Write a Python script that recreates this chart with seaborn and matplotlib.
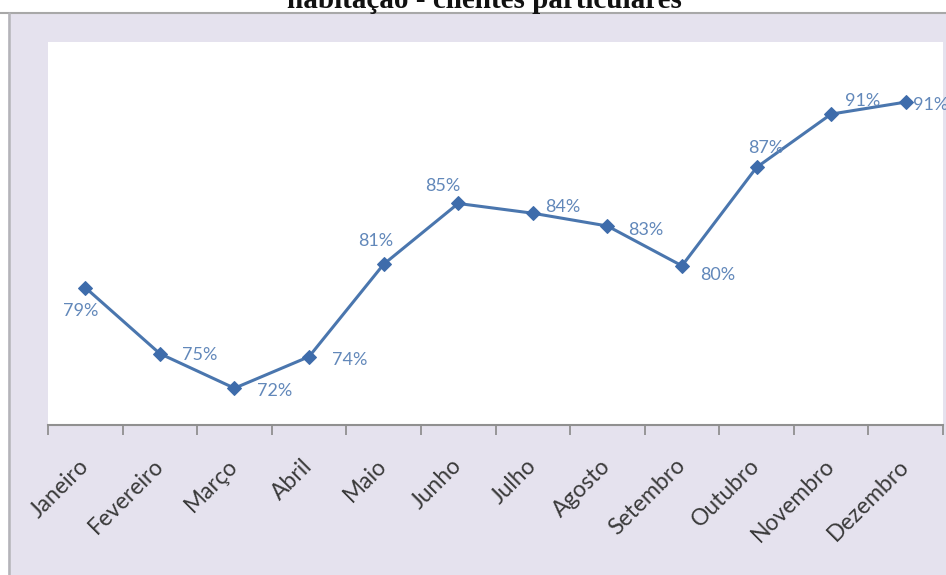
import numpy as np
import pandas as pd
import matplotlib
matplotlib.use("Agg")
import matplotlib.pyplot as plt
from matplotlib.patches import Rectangle
from matplotlib.lines import Line2D
import seaborn as sns

# Monthly rate (%) - housing, private customers
months = ["Janeiro", "Fevereiro", "Março", "Abril", "Maio", "Junho",
          "Julho", "Agosto", "Setembro", "Outubro", "Novembro", "Dezembro"]
rates = [79.0, 74.6, 72.3, 74.4, 80.55, 84.6, 83.95, 83.1, 80.45, 87.0, 90.55, 91.35]

title = "habitação - clientes particulares"

# data-label placement, in pixels relative to each marker (dx, dy, ha)
label_offsets = [(-5, -23, "center"), (22, -1, "left"), (23, -3, "left"),
                 (23, -3, "left"), (-8, 23, "center"), (-15, 17, "center"),
                 (12, 6, "left"), (21, -4, "left"), (18, -9, "left"),
                 (9, 19, "center"), (31, 13, "center"), (7, -3, "left")]

sns.set_theme(style="white")
plt.rcParams["font.family"] = ["Lato", "DejaVu Sans"]

W, H = 946, 575
fig = plt.figure(figsize=(W / 100, H / 100), dpi=100, facecolor="white")

# lavender chart frame below the title strip
bg = "#e5e2ee"
fig.patches.append(Rectangle((8 / W, 0), 1 - 8 / W, 1 - 13 / H,
                             transform=fig.transFigure, facecolor=bg,
                             edgecolor="none", zorder=-10))
fig.lines.append(Line2D([0, 1], [1 - 12.5 / H, 1 - 12.5 / H],
                        transform=fig.transFigure, color="#a8a8a8", lw=1.5, zorder=-5))
fig.lines.append(Line2D([8.5 / W, 8.5 / W], [0, 1 - 12.5 / H],
                        transform=fig.transFigure, color="#b4b4b8", lw=1.8, zorder=-5))

fig.text(484 / W, 1 - 8.5 / H, title, ha="center", va="baseline",
         fontsize=21, fontweight="bold", family=["Liberation Serif", "DejaVu Serif"],
         color="#111111")

left, right, top, bottom = 48, 943, 42, 425
ax = fig.add_axes([left / W, 1 - bottom / H, (right - left) / W, (bottom - top) / H])
ax.set_zorder(2)
ax.set_facecolor("white")

df = pd.DataFrame({"mes": months, "taxa": rates})
line_color = "#4a76ae"
sns.lineplot(data=df, x="mes", y="taxa", sort=False, ax=ax, color=line_color,
             linewidth=2.2, marker="D", markersize=7, markerfacecolor="#3e6cab",
             markeredgecolor="#3e6cab")

ax.set_xlim(-0.5, len(months) - 0.5)
ax.set_ylim(69.85, 95.35)

for i, (m, v) in enumerate(zip(months, rates)):
    dx, dy, ha = label_offsets[i]
    ax.annotate(f"{v:.0f}%", (i, v), xytext=(dx, dy), textcoords="offset pixels",
                ha=ha, va="center", fontsize=13, color="#6288ba",
                annotation_clip=False)

# category boundaries carry the tick marks, centres carry the names
ax.set_xticks(np.arange(len(months) + 1) - 0.5)
ax.set_xticklabels([])
ax.set_xticks(np.arange(len(months)), minor=True)
ax.set_xticklabels(months, minor=True, rotation=45, ha="right",
                   va="center", rotation_mode="anchor", fontsize=16.5, color="#3a3a3a")
ax.tick_params(axis="x", which="major", direction="out", length=7, width=1.3,
               color="#909090", bottom=True)
ax.tick_params(axis="x", which="minor", length=0, pad=27)
ax.set_yticks([])
ax.set_xlabel("")
ax.set_ylabel("")

for side in ["top", "right", "left"]:
    ax.spines[side].set_visible(False)
ax.spines["bottom"].set_color("#909090")
ax.spines["bottom"].set_linewidth(1.5)

fig.savefig("out.png", dpi=100, facecolor="white")
